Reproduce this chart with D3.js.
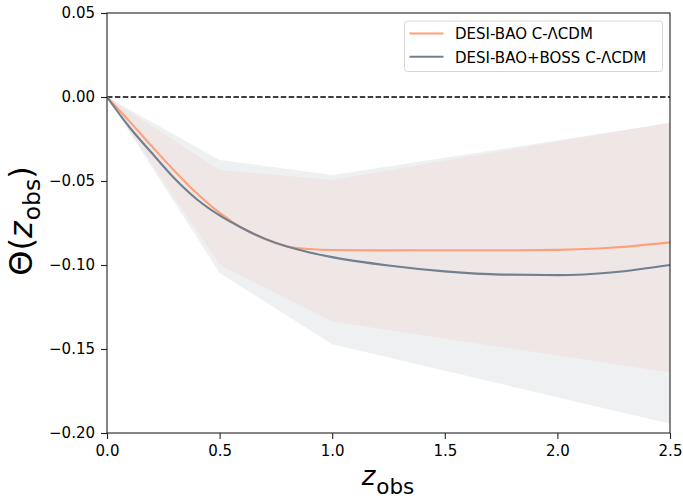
<!DOCTYPE html>
<html>
<head>
<meta charset="utf-8">
<script src="https://cdn.jsdelivr.net/npm/d3@7"></script>
<style>
  body { margin: 0; background: #fff; }
  svg { font-family: "DejaVu Sans", sans-serif; }
</style>
</head>
<body>
<svg id="chart" width="683" height="500"></svg>
<script>
// Redshift grid of the reconstructed curves
const zCurve = [0, 0.1, 0.2, 0.3, 0.4, 0.5, 0.6, 0.7, 0.8, 0.9, 1.0, 1.25, 1.5, 1.75, 2.0, 2.25, 2.5];
const thetaDesi = [0, -0.0145, -0.0295, -0.0440, -0.0575, -0.0690, -0.0780, -0.0845, -0.0890, -0.0905, -0.0911, -0.0913, -0.0912, -0.0912, -0.0910, -0.0896, -0.0865];
const thetaDesiBoss = [0, -0.0180, -0.0335, -0.0485, -0.0610, -0.0705, -0.0780, -0.0843, -0.0890, -0.0925, -0.0953, -0.1003, -0.1038, -0.1057, -0.1060, -0.1043, -0.1000];

// Uncertainty bands sampled at the data redshifts
const zBand = [0, 0.5, 1.0, 2.5];
const desiLow = [0, -0.1000, -0.1337, -0.1640];
const desiHigh = [0, -0.0435, -0.0494, -0.0150];
const bossLow = [0, -0.1048, -0.1472, -0.1945];
const bossHigh = [0, -0.0375, -0.0464, -0.0155];

const xTicks = [0, 0.5, 1.0, 1.5, 2.0, 2.5];
const yTicks = [0.05, 0.00, -0.05, -0.10, -0.15, -0.20];

const seriesNames = ["DESI-BAO C-\u039BCDM", "DESI-BAO+BOSS C-\u039BCDM"];
const colDesi = "#ffa07a";
const colBoss = "#708090";

const svg = d3.select("#chart");
const plotL = 107, plotR = 670, plotT = 13, plotB = 433;

const x = d3.scaleLinear().domain([0, 2.5]).range([plotL, plotR]);
const y = d3.scaleLinear().domain([-0.20, 0.05]).range([plotB, plotT]);

svg.append("defs").append("clipPath").attr("id", "plotclip")
  .append("rect").attr("x", plotL).attr("y", plotT)
  .attr("width", plotR - plotL).attr("height", plotB - plotT);

const plot = svg.append("g").attr("clip-path", "url(#plotclip)");

const area = d3.area()
  .x((d, i) => x(zBand[i]))
  .y0(d => y(d[0]))
  .y1(d => y(d[1]));

plot.append("path")
  .datum(bossLow.map((v, i) => [v, bossHigh[i]]))
  .attr("d", area)
  .attr("fill", colBoss).attr("fill-opacity", 0.12);

plot.append("path")
  .datum(desiLow.map((v, i) => [v, desiHigh[i]]))
  .attr("d", area)
  .attr("fill", colDesi).attr("fill-opacity", 0.1);

// zero reference
plot.append("line")
  .attr("x1", plotL).attr("x2", plotR)
  .attr("y1", y(0)).attr("y2", y(0))
  .attr("stroke", "#000").attr("stroke-width", 1.3)
  .attr("stroke-dasharray", "5.5,2.4");

const line = d3.line()
  .x((d, i) => x(zCurve[i]))
  .y(d => y(d))
  .curve(d3.curveMonotoneX);

plot.append("path").datum(thetaDesi).attr("d", line)
  .attr("fill", "none").attr("stroke", colDesi).attr("stroke-width", 2.1);
plot.append("path").datum(thetaDesiBoss).attr("d", line)
  .attr("fill", "none").attr("stroke", colBoss).attr("stroke-width", 2.1);

// axes
const xAxis = d3.axisBottom(x).tickValues(xTicks).tickFormat(d3.format(".1f")).tickSize(6).tickPadding(6);
const yAxis = d3.axisLeft(y).tickValues(yTicks).tickFormat(d3.format(".2f")).tickSize(6).tickPadding(6);

const gx = svg.append("g").attr("transform", `translate(0,${plotB})`).call(xAxis);
const gy = svg.append("g").attr("transform", `translate(${plotL},0)`).call(yAxis);
[gx, gy].forEach(g => {
  g.select(".domain").remove();
  g.selectAll("line").attr("stroke", "#222").attr("stroke-width", 1.1);
  g.selectAll("text").attr("fill", "#000").style("font-size", "15px")
    .style("font-family", "'DejaVu Sans', sans-serif");
});
gy.selectAll("text").text(d => d3.format(".2f")(d).replace("-", "\u2212"));

// frame
svg.append("rect").attr("x", plotL).attr("y", plotT)
  .attr("width", plotR - plotL).attr("height", plotB - plotT)
  .attr("fill", "none").attr("stroke", "#222").attr("stroke-width", 1.1);

// axis titles
const xl = svg.append("text").attr("x", 388).attr("y", 485)
  .attr("text-anchor", "middle").style("font-size", "26px");
xl.append("tspan").attr("font-style", "italic").text("z");
xl.append("tspan").attr("dx", 1).attr("dy", 9).style("font-size", "21.5px").text("obs");

const yl = svg.append("text")
  .attr("transform", "translate(32,221) rotate(-90)")
  .attr("text-anchor", "middle").style("font-size", "32px");
yl.append("tspan").text("\u0398(");
yl.append("tspan").attr("font-style", "italic").text("z");
yl.append("tspan").attr("dx", 1).attr("dy", 8).style("font-size", "23.5px").text("obs");
yl.append("tspan").attr("dy", -8).text(")");

// legend
const lg = svg.append("g");
lg.append("rect").attr("x", 404.5).attr("y", 21).attr("width", 258).attr("height", 50.5)
  .attr("rx", 3).attr("fill", "#fff").attr("fill-opacity", 0.8)
  .attr("stroke", "#d6d6d6").attr("stroke-width", 1);
[colDesi, colBoss].forEach((c, i) => {
  const yy = 33.5 + i * 23.3;
  lg.append("line").attr("x1", 409.5).attr("x2", 443.5).attr("y1", yy).attr("y2", yy)
    .attr("stroke", c).attr("stroke-width", 2.1);
  lg.append("text").attr("x", 455).attr("y", yy + 5.8)
    .style("font-size", "15px").text(seriesNames[i]);
});
</script>
</body>
</html>
